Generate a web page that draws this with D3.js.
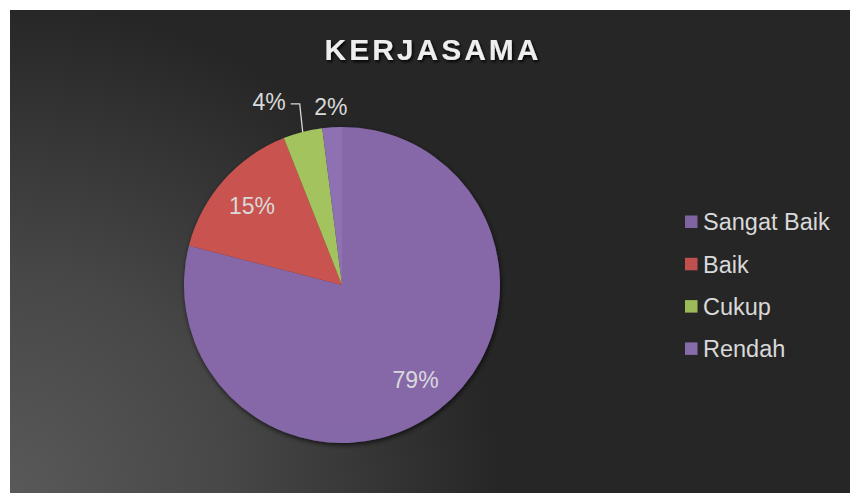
<!DOCTYPE html>
<html lang="en">
	<head>
		<meta charset="utf-8">
		<title>KERJASAMA</title>
		<script type="text/javascript" src="https://cdn.jsdelivr.net/npm/d3@7"></script>
		<style type="text/css">
			body {
				margin: 0;
				background: #ffffff;
				font-family: "Liberation Sans", Arial, sans-serif;
			}
			svg { display: block; }
		</style>
	</head>
	<body>
		<script type="text/javascript">

			//Data
			var categories = ["Sangat Baik", "Baik", "Cukup", "Rendah"];
			var values = [79, 15, 4, 2];
			var colors = ["#8064a2", "#c0504d", "#9bbb59", "#876cab"];
			var title = "KERJASAMA";

			//Size
			var w = 850;
			var h = 493;
			var cx = 342, cy = 285, r = 158;

			var svg = d3.select("body")
						.append("svg")
						.attr("width", w)
						.attr("height", h);

			var defs = svg.append("defs");

			//Background gradient, lighter in the bottom-left corner
			var bg = defs.append("radialGradient")
						.attr("id", "bg")
						.attr("gradientUnits", "userSpaceOnUse")
						.attr("cx", 10).attr("cy", 493)
						.attr("r", 490);
			bg.append("stop").attr("offset", "0%").attr("stop-color", "#595959");
			bg.append("stop").attr("offset", "45%").attr("stop-color", "#474747");
			bg.append("stop").attr("offset", "100%").attr("stop-color", "#262626");

			//Slice gradients
			colors.forEach(function(c, i) {
				var g = defs.append("linearGradient")
							.attr("id", "slice" + i)
							.attr("gradientUnits", "userSpaceOnUse")
							.attr("x1", 0).attr("y1", cy - r)
							.attr("x2", 0).attr("y2", cy + r);
				g.append("stop").attr("offset", "0%").attr("stop-color", d3.color(c).brighter(0.12));
				g.append("stop").attr("offset", "50%").attr("stop-color", c);
				g.append("stop").attr("offset", "100%").attr("stop-color", d3.color(c).darker(0.08));
			});

			var shadow = defs.append("filter").attr("id", "shadow")
						.attr("x", "-20%").attr("y", "-20%").attr("width", "140%").attr("height", "140%");
			shadow.append("feDropShadow")
				  .attr("dx", 1).attr("dy", 2).attr("stdDeviation", 2.5)
				  .attr("flood-color", "#000").attr("flood-opacity", 0.7);

			var tshadow = defs.append("filter").attr("id", "tshadow");
			tshadow.append("feDropShadow")
				   .attr("dx", 1.5).attr("dy", 2).attr("stdDeviation", 1.5)
				   .attr("flood-color", "#000").attr("flood-opacity", 0.9);

			svg.append("rect")
			   .attr("x", 10).attr("y", 10)
			   .attr("width", w - 10).attr("height", h - 10)
			   .attr("fill", "url(#bg)");

			//Title
			svg.append("text")
			   .text(title)
			   .attr("x", 433)
			   .attr("y", 60)
			   .attr("text-anchor", "middle")
			   .attr("font-size", "30px")
			   .attr("font-weight", "bold")
			   .attr("letter-spacing", "3px")
			   .attr("fill", "#eeeeee")
			   .attr("filter", "url(#tshadow)");

			//Pie
			var data = categories.map(function(c, i) { return { name: c, value: values[i], i: i }; });
			var pie = d3.pie().sort(null).value(function(d) { return d.value; });
			var arcs = pie(data);
			var arc = d3.arc().innerRadius(0).outerRadius(r);
			var labelArc = d3.arc().innerRadius(r * 0.76).outerRadius(r * 0.76);
			var outerArc = d3.arc().innerRadius(r * 1.13).outerRadius(r * 1.13);

			var g = svg.append("g").attr("transform", "translate(" + cx + "," + cy + ")");

			g.append("g")
			 .attr("filter", "url(#shadow)")
			 .selectAll("path")
			 .data(arcs)
			 .enter()
			 .append("path")
			 .attr("d", arc)
			 .attr("fill", function(d) { return "url(#slice" + d.data.i + ")"; });

			//Labels: big slices inside, small slices outside
			var total = d3.sum(values);
			var prevOut = null;
			arcs.slice().reverse().forEach(function(d) {
				var txt = Math.round(d.data.value / total * 100) + "%";
				var big = d.data.value / total > 0.1;
				var p, anchor = "middle";
				if (big) {
					p = labelArc.centroid(d);
				} else {
					p = outerArc.centroid(d);
					if (prevOut) {
						//nudge left of the previous outside label with a leader line
						var mid = (d.startAngle + d.endAngle) / 2;
						var ex = Math.sin(mid) * r, ey = -Math.cos(mid) * r;
						var lx = ex - 3, ly = prevOut[1] - 3;
						g.append("polyline")
						 .attr("points", [[ex, ey], [lx, ly], [lx - 9, ly]].map(function(q) { return q.join(","); }).join(" "))
						 .attr("fill", "none")
						 .attr("stroke", "#d9d9d9")
						 .attr("stroke-width", 1.3);
						p = [lx - 14, ly - 2];
						anchor = "end";
					}
					prevOut = p;
				}
				g.append("text")
				 .text(txt)
				 .attr("x", p[0])
				 .attr("y", p[1])
				 .attr("dy", "0.35em")
				 .attr("text-anchor", anchor)
				 .attr("font-size", "23px")
				 .attr("fill", "#d9d9d9");
			});

			//Legend
			var legend = svg.append("g").attr("transform", "translate(685,222)");
			var rows = legend.selectAll("g")
							 .data(data)
							 .enter()
							 .append("g")
							 .attr("transform", function(d, i) { return "translate(0," + (i * 42.3) + ")"; });
			rows.append("rect")
				.attr("x", 0).attr("y", -6.5)
				.attr("width", 12.5).attr("height", 12.5)
				.attr("fill", function(d) { return colors[d.i]; });
			rows.append("text")
				.text(function(d) { return d.name; })
				.attr("x", 18)
				.attr("y", 0)
				.attr("dy", "0.35em")
				.attr("font-size", "23.5px")
				.attr("fill", "#d9d9d9");

		</script>
	</body>
</html>
